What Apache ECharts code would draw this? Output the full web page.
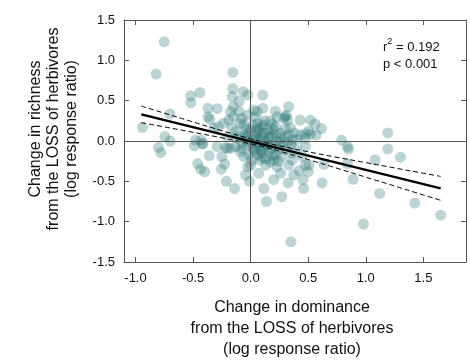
<!DOCTYPE html>
<html>
<head>
<meta charset="utf-8">
<script src="https://cdn.jsdelivr.net/npm/echarts@6/dist/echarts.min.js"></script>
<style>
html,body{margin:0;padding:0;background:#fff;}
#chart{width:470px;height:361px;}
</style>
</head>
<body>
<div id="chart"></div>
<script>
// Change in dominance (x) and change in richness (y), log response ratios
const dominance = [
 -0.75,-0.82,-0.94,-0.745,-0.70,-0.80,-0.78,-0.70,-0.155,-0.155,
 -0.52,-0.44,-0.52,-0.065,-0.025,-0.16,-0.10,-0.37,-0.29,-0.37,
 -0.355,-0.15,-0.175,-0.15,-0.235,-0.19,-0.10,-0.075,-0.09,-0.03,
 0.027,0.04,-0.32,-0.28,-0.16,-0.13,-0.06,0.0,0.055,-0.045,
 0.04,-0.12,-0.03,0.027,-0.48,-0.43,-0.29,-0.49,-0.415,-0.46,
 -0.435,-0.40,-0.36,-0.25,-0.225,-0.255,-0.21,-0.14,-0.20,-0.045,
 -0.01,-0.025,0.0,-0.22,-0.175,-0.13,-0.09,-0.06,-0.015,0.013,
 -0.075,-0.03,0.07,0.115,0.137,0.20,0.27,0.35,0.325,0.375,
 0.42,0.455,0.46,0.50,0.505,0.62,0.26,0.33,0.36,0.23,
 0.17,0.20,0.13,0.08,0.475,0.40,0.30,0.79,0.84,0.85,
 1.19,1.19,1.30,1.08,0.89,0.84,1.12,1.425,1.65,0.98,
 0.635,0.57,0.505,0.475,0.33,0.29,0.31,0.43,0.52,0.56,
 0.615,0.105,0.105,0.055,0.215,0.23,0.30,0.32,0.19,0.215,
 0.20,0.345,0.33,0.10,0.07,0.115,0.26,0.26,0.16,0.36,
 0.475,0.43,0.04,0.085,0.10,0.157,0.215,0.27,0.36,0.45,
 0.475,-0.42,0.0,0.05,0.12,0.15,0.18,0.08,-0.05,0.02,
 0.12,0.20,0.24,0.10,0.03,-0.10,0.15,0.30,0.35,0.22,
 -0.20,0.06,0.52,0.05,0.10,0.14,0.18,0.22,0.25,-0.02,
 0.06,0.12,0.16,0.28,0.32,0.02,-0.08,0.09,0.19,0.24,
 0.11,0.17,-0.04,0.30,0.38,0.40,0.13,0.06
];
const richness = [
 1.23,0.83,0.17,0.055,0.0,-0.08,-0.145,0.335,0.85,0.65,
 0.56,0.60,0.475,0.61,0.57,0.55,0.49,0.405,0.40,0.30,
 0.27,0.425,0.365,0.30,0.22,0.26,0.365,0.28,0.22,0.32,
 0.385,0.30,0.16,0.18,0.16,0.115,0.20,0.135,0.16,0.075,
 0.075,0.035,0.01,0.01,0.01,0.01,-0.07,-0.06,-0.04,-0.28,
 -0.35,-0.38,-0.18,-0.195,-0.285,-0.35,-0.50,-0.59,-0.09,-0.42,
 -0.50,-0.32,-0.30,-0.08,-0.09,-0.07,-0.13,-0.195,-0.175,-0.235,
 -0.09,-0.05,-0.40,-0.59,-0.75,-0.48,-0.69,-1.25,-0.52,-0.42,
 -0.37,-0.48,-0.59,-0.38,-0.30,-0.52,-0.40,-0.30,-0.235,-0.32,
 -0.26,-0.235,-0.30,-0.235,-0.06,-0.11,-0.11,0.01,-0.07,-0.10,
 0.10,-0.10,-0.20,-0.235,-0.475,-0.28,-0.65,-0.77,-0.92,-1.03,
 -0.29,0.075,0.125,0.09,0.425,0.28,0.32,0.26,0.26,0.21,
 0.155,0.57,0.405,0.365,0.37,0.30,0.30,0.26,0.21,0.18,
 0.135,0.165,0.075,0.18,0.135,0.095,0.095,0.035,0.035,0.01,
 0.035,0.075,-0.11,-0.07,-0.15,-0.13,-0.175,-0.195,-0.15,-0.195,
 -0.30,-0.03,-0.02,-0.04,0.0,-0.05,0.06,0.04,0.04,0.20,
 0.25,-0.05,-0.10,-0.20,-0.12,0.06,0.14,0.05,-0.05,0.0,
 0.05,0.22,0.085,0.02,0.05,-0.02,-0.10,0.08,-0.02,0.10,
 0.10,-0.08,0.10,-0.05,-0.02,-0.08,-0.02,-0.12,-0.18,-0.25,
 0.20,0.25,0.15,0.15,0.10,0.02,-0.22,-0.17
];
// Fitted regression line and 95% confidence band
const fitX = [-0.95, 1.65];
const fitY = [0.33, -0.587];
const bandX = [-0.95,-0.75,-0.5,-0.25,0,0.1,0.25,0.5,0.75,1.0,1.25,1.5,1.65];
const bandUpper = [0.433,0.345,0.236,0.128,0.026,-0.010,-0.060,-0.134,-0.202,-0.268,-0.334,-0.400,-0.439];
const bandLower = [0.227,0.175,0.108,0.039,-0.036,-0.070,-0.126,-0.230,-0.338,-0.448,-0.558,-0.670,-0.735];
const yTicks = [-1.5,-1.0,-0.5,0.0,0.5,1.0,1.5];
const xTitle = ['Change in dominance','from the LOSS of herbivores','(log response ratio)'];
const yTitle = ['Change in richness','from the LOSS of herbivores','(log response ratio)'];
const r2 = '0.192';
const pText = 'p < 0.001';

const pts = dominance.map((d,i)=>[d, richness[i]]);
const zip = (a,b)=>a.map((v,i)=>[v,b[i]]);

const FONT = 'Liberation Sans, Arial, sans-serif';
const axisCol = '#555';
const chart = echarts.init(document.getElementById('chart'), null, {renderer:'canvas'});

const xCommon = {type:'value', min:-1.1, max:1.87, splitNumber:6, splitLine:{show:false},
  axisLine:{show:true, onZero:false, lineStyle:{color:axisCol, width:1}},
  axisTick:{show:true, inside:true, length:5, lineStyle:{color:axisCol}}};
const yCommon = {type:'value', min:-1.5, max:1.5, interval:0.5, splitLine:{show:false},
  axisLine:{show:true, onZero:false, lineStyle:{color:axisCol, width:1}},
  axisTick:{show:true, inside:true, length:5, lineStyle:{color:axisCol}}};

chart.setOption({
  animation:false,
  backgroundColor:'#fff',
  grid:{left:124, right:4, top:20, bottom:99, show:false},
  xAxis:[
    Object.assign({}, xCommon, {position:'bottom',
      axisLabel:{show:true, showMinLabel:false, showMaxLabel:false, margin:10, color:'#111', fontSize:13, fontFamily:FONT,
        formatter:v=>v.toFixed(1)}}),
    Object.assign({}, xCommon, {position:'top', axisLabel:{show:false}})
  ],
  yAxis:[
    Object.assign({}, yCommon, {position:'left',
      axisLabel:{show:true, margin:9, color:'#111', fontSize:13, fontFamily:FONT,
        formatter:v=>yTicks.includes(+v.toFixed(1)) ? v.toFixed(1) : ''}}),
    Object.assign({}, yCommon, {position:'right', axisLabel:{show:false}})
  ],
  graphic:[
    {type:'text', x:54, y:129, rotation:Math.PI/2, silent:true,
      style:{text:yTitle.join('\n'), fill:'#111', font:'16px '+FONT, textAlign:'center', textVerticalAlign:'middle', lineHeight:18}},
    {type:'text', x:292, y:329, silent:true,
      style:{text:xTitle.join('\n'), fill:'#111', font:'16px '+FONT, textAlign:'center', textVerticalAlign:'middle', lineHeight:21}},
    {type:'text', left:383, top:37, silent:true,
      style:{text:'{a|r}{s|2}{a| = '+r2+'}\n{a|'+pText+'}', fill:'#111',
        rich:{a:{fontSize:13, fontFamily:FONT, lineHeight:17, verticalAlign:'bottom'},
              s:{fontSize:9, fontFamily:FONT, verticalAlign:'top', lineHeight:17, padding:[0,0,6,0]}}}}
  ],
  series:[
    {type:'scatter', data:pts, symbol:'circle', symbolSize:11,
      itemStyle:{color:'rgba(35,115,112,0.38)', borderWidth:0}, z:3,
      markLine:{silent:true, symbol:'none', label:{show:false},
        lineStyle:{color:'#555', width:1, type:'solid'},
        data:[{xAxis:0},{yAxis:0}]}},
    {type:'line', data:zip(bandX,bandUpper), smooth:true, showSymbol:false, z:4,
      lineStyle:{color:'#000', width:1, type:[5,3]}},
    {type:'line', data:zip(bandX,bandLower), smooth:true, showSymbol:false, z:4,
      lineStyle:{color:'#000', width:1, type:[5,3]}},
    {type:'line', data:zip(fitX,fitY), showSymbol:false, z:5,
      lineStyle:{color:'#000', width:2.5}}
  ]
});
</script>
</body>
</html>
